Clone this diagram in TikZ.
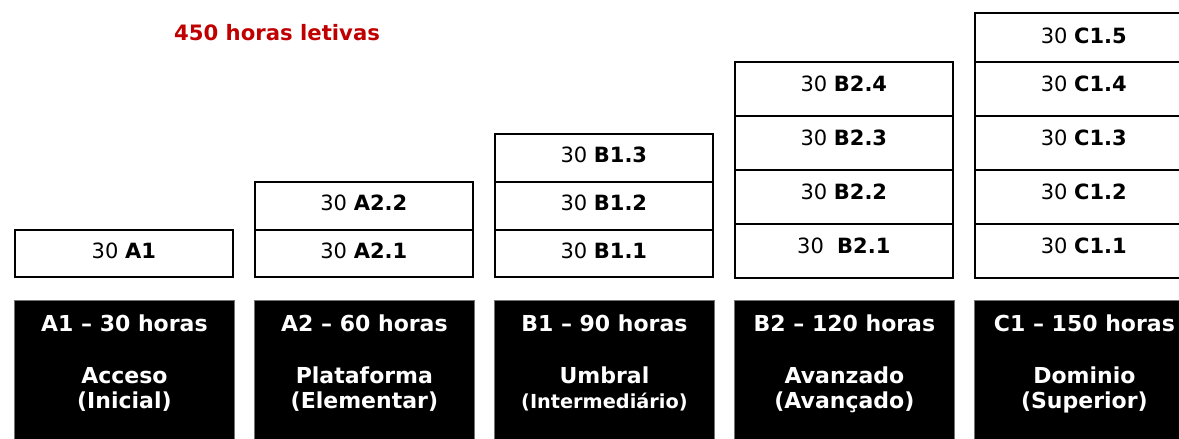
\documentclass[tikz,border=0pt]{standalone}
\usepackage{fontspec}
\setmainfont{DejaVu Sans}
\definecolor{redtxt}{HTML}{C00000}
\begin{document}
\begin{tikzpicture}[x=1pt,y=1pt,
  cell/.style={draw=black, line width=1.6pt, fill=white, minimum width=218pt,
    inner sep=0pt, anchor=north west, font=\fontsize{21}{25}\selectfont, text height=15.5pt},
  lvl/.style={fill=black, draw=black!55, line width=0.8pt, minimum width=220pt,
    minimum height=150pt, anchor=north west, inner sep=0pt},
  lvltext/.style={text=white, font=\bfseries\fontsize{22}{25.5}\selectfont, align=center,
    anchor=north, inner sep=0pt},
  title/.style={font=\bfseries\fontsize{21.2}{25}\selectfont, text=redtxt, anchor=base}]
\useasboundingbox (0,0) rectangle (1179,439);
\newcommand\cellbox[6]{\node[cell, minimum height=#4pt, text depth=#5pt] (#1) at (#2,#3) {#6};}
% title
\node[title] (ttl) at (277,398) {450 horas letivas};
% A1 column
\cellbox{a1}{14}{210}{47}{5.5}{30 \textbf{A1}}
% A2 column
\cellbox{a22}{254}{258}{48}{6.5}{30 \textbf{A2.2}}
\cellbox{a21}{254}{210}{47}{5.5}{30 \textbf{A2.1}}
% B1 column
\cellbox{b13}{494}{306}{48}{6.5}{30 \textbf{B1.3}}
\cellbox{b12}{494}{258}{48}{6.5}{30 \textbf{B1.2}}
\cellbox{b11}{494}{210}{47}{5.5}{30 \textbf{B1.1}}
% B2 column
\cellbox{b24}{734}{378}{54}{10.5}{30 \textbf{B2.4}}
\cellbox{b23}{734}{324}{54}{10.5}{30 \textbf{B2.3}}
\cellbox{b22}{734}{270}{54}{10.5}{30 \textbf{B2.2}}
\cellbox{b21}{734}{216}{54}{10.5}{30\ \ \textbf{B2.1}}
% C1 column
\cellbox{c15}{974}{426.5}{48.5}{4.5}{30 \textbf{C1.5}}
\cellbox{c14}{974}{378}{54}{10.5}{30 \textbf{C1.4}}
\cellbox{c13}{974}{324}{54}{10.5}{30 \textbf{C1.3}}
\cellbox{c12}{974}{270}{54}{10.5}{30 \textbf{C1.2}}
\cellbox{c11}{974}{216}{54}{10.5}{30 \textbf{C1.1}}
% level boxes
\node[lvl] (la1) at (14,139) {};
\node[lvl] (la2) at (254,139) {};
\node[lvl] (lb1) at (494,139) {};
\node[lvl] (lb2) at (734,139) {};
\node[lvl] (lc1) at (974,139) {};
\node[lvltext] (ta1) at ([yshift=-15pt]la1.north) {A1 -- 30 horas\\[26pt]Acceso\\(Inicial)};
\node[lvltext] (ta2) at ([yshift=-15pt]la2.north) {A2 -- 60 horas\\[26pt]Plataforma\\(Elementar)};
\node[lvltext] (tb1) at ([yshift=-15pt]lb1.north) {B1 -- 90 horas\\[26pt]Umbral\\{\fontsize{19.3}{22}\selectfont(Intermediário)}};
\node[lvltext] (tb2) at ([yshift=-15pt]lb2.north) {B2 -- 120 horas\\[26pt]Avanzado\\(Avançado)};
\node[lvltext] (tc1) at ([yshift=-15pt]lc1.north) {C1 -- 150 horas\\[26pt]Dominio\\(Superior)};
\end{tikzpicture}
\end{document}
